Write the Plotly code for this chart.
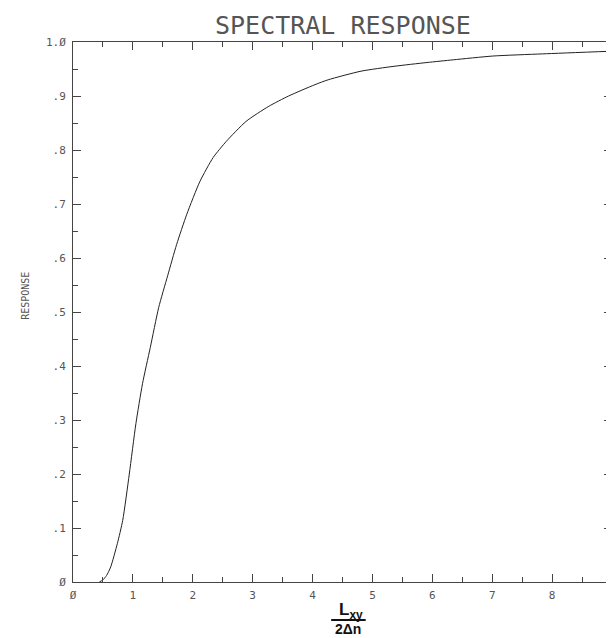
import plotly.graph_objects as go

# Data
ratio = [0.44, 0.50, 0.56, 0.63, 0.74, 0.83, 0.94, 1.05, 1.16, 1.29, 1.43, 1.58,
         1.73, 1.90, 2.12, 2.34, 2.56, 2.89, 3.27, 3.60, 4.04, 4.26, 4.81, 5.36,
         5.91, 6.35, 7.01, 7.84, 9.0]
response = [0.0, 0.004, 0.012, 0.028, 0.071, 0.114, 0.20, 0.293, 0.367, 0.434,
            0.508, 0.567, 0.625, 0.681, 0.742, 0.786, 0.816, 0.853, 0.881, 0.90,
            0.921, 0.930, 0.946, 0.955, 0.962, 0.967, 0.974, 0.978, 0.983]

x_tick_vals = [0, 1, 2, 3, 4, 5, 6, 7, 8, 9]
x_tick_text = ["Ø", "1", "2", "3", "4", "5", "6", "7", "8", "9"]
y_tick_vals = [0, 0.1, 0.2, 0.3, 0.4, 0.5, 0.6, 0.7, 0.8, 0.9, 1.0]
y_tick_text = ["Ø", ".1", ".2", ".3", ".4", ".5", ".6", ".7", ".8", ".9", "1.Ø"]

title_text = "SPECTRAL RESPONSE"
y_title = "RESPONSE"
x_title_num = "L<sub>xy</sub>"
x_title_den = "2Δn"

fig = go.Figure()
fig.add_trace(go.Scatter(x=ratio, y=response, mode="lines",
                         line=dict(color="#222", width=1, shape="spline", smoothing=0.6),
                         showlegend=False, hoverinfo="skip"))

tick_font = dict(family="DejaVu Sans Mono", size=11, color="#555")
axis_common = dict(showgrid=False, zeroline=False, showline=True, linecolor="#444",
                   linewidth=1, mirror="ticks", ticks="inside", ticklen=8,
                   tickcolor="#444", tickwidth=1, tickfont=tick_font,
                   ticklabeloverflow="allow")

fig.update_xaxes(range=[0, 9], tickmode="array", tickvals=x_tick_vals,
                 ticktext=x_tick_text, ticklabelstandoff=3,
                 minor=dict(ticks="inside", ticklen=5, dtick=0.5, tick0=0,
                            tickcolor="#444", tickwidth=1),
                 **axis_common)
fig.update_yaxes(range=[0, 1], tickmode="array", tickvals=y_tick_vals,
                 ticktext=y_tick_text, ticklabelstandoff=4,
                 minor=dict(ticks="inside", ticklen=5, dtick=0.05, tick0=0,
                            tickcolor="#444", tickwidth=1),
                 **axis_common)

fig.update_layout(
    width=614, height=638,
    margin=dict(l=65, r=7, t=34, b=64),
    plot_bgcolor="white", paper_bgcolor="white",
    annotations=[
        dict(text=title_text, xref="paper", yref="paper", x=0.5, y=1,
             xanchor="center", yanchor="bottom", yshift=0, showarrow=False,
             font=dict(family="DejaVu Sans Mono", size=25, color="#555")),
        dict(text=y_title, xref="paper", yref="paper", x=0, y=0.53,
             xshift=-47, textangle=-90, xanchor="center", yanchor="middle",
             showarrow=False, font=dict(family="DejaVu Sans Mono", size=10, color="#555")),
        dict(text=x_title_num, xref="paper", yref="paper", x=0.515, y=0,
             xanchor="center", yanchor="middle", yshift=-29, showarrow=False,
             borderpad=0,
             font=dict(family="Liberation Sans", size=17, color="#111", weight="bold")),
        dict(text=x_title_den, xref="paper", yref="paper", x=0.51, y=0,
             xanchor="center", yanchor="middle", yshift=-47, showarrow=False,
             borderpad=0,
             font=dict(family="Liberation Sans", size=14, color="#111", weight="bold")),
    ],
)

# Fraction bar between numerator and denominator, offset in pixels below the x axis
fig.add_shape(type="line", xref="paper", yref="paper", ysizemode="pixel",
              yanchor=0, x0=0.479, x1=0.543, y0=-38, y1=-38,
              line=dict(color="#111", width=2))

fig.write_html("out.html")
